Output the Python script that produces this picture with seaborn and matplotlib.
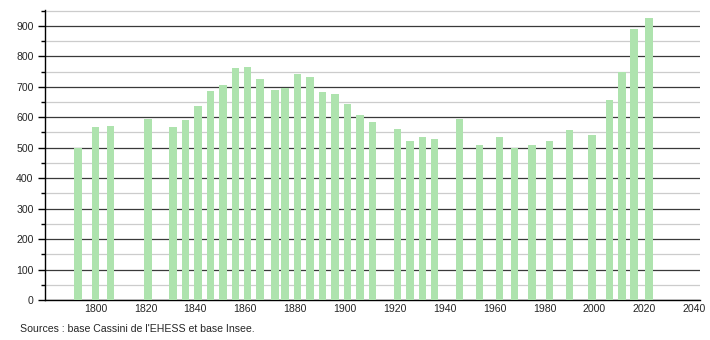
import matplotlib
matplotlib.use("Agg")
import matplotlib.pyplot as plt
import seaborn as sns
import pandas as pd
from matplotlib.ticker import MultipleLocator

years = [1793, 1800, 1806, 1821, 1831, 1836, 1841, 1846, 1851, 1856, 1861, 1866,
         1872, 1876, 1881, 1886, 1891, 1896, 1901, 1906, 1911, 1921, 1926, 1931,
         1936, 1946, 1954, 1962, 1968, 1975, 1982, 1990, 1999, 2006, 2011, 2016, 2022]
population = [498, 568, 571, 595, 568, 591, 637, 687, 705, 762, 764, 726,
              690, 697, 742, 733, 684, 677, 642, 607, 585, 562, 522, 535,
              528, 595, 509, 535, 500, 509, 522, 558, 542, 658, 749, 890, 926]
x_ticks = [1800, 1820, 1840, 1860, 1880, 1900, 1920, 1940, 1960, 1980, 2000, 2020, 2040]
source_text = "Sources : base Cassini de l'EHESS et base Insee."

df = pd.DataFrame({"year": years, "pop": population})

sns.set_style("white")
plt.rcParams['font.family'] = ['Liberation Sans', 'DejaVu Sans']

fig = plt.figure(figsize=(7.1, 3.4), dpi=100)
ax = fig.add_axes([0.063, 0.1176, 0.923, 0.853])

sns.barplot(data=df, x="year", y="pop", native_scale=True, width=0.75,
            color="#aee3ae", saturation=1, linewidth=0, ax=ax, zorder=3)

ax.set_xlim(1779.6, 2042.4)
ax.set_ylim(0, 952)
ax.set_xticks(x_ticks)
ax.set_xticklabels([str(t) for t in x_ticks])
ax.yaxis.set_major_locator(MultipleLocator(100))
ax.yaxis.set_minor_locator(MultipleLocator(50))
ax.set_axisbelow(True)
ax.yaxis.grid(True, which="major", color="#3a3a3a", linewidth=0.9, zorder=0)
ax.yaxis.grid(True, which="minor", color="#cccccc", linewidth=0.9, zorder=0)
ax.xaxis.grid(False)

for s in ["top", "right"]:
    ax.spines[s].set_visible(False)
ax.spines["left"].set_color("black")
ax.spines["bottom"].set_color("black")
ax.spines["left"].set_linewidth(1)
ax.spines["bottom"].set_linewidth(1)

ax.tick_params(axis="y", which="major", left=True, length=5, width=1, color="black",
               labelsize=7.6, pad=3, direction="out")
ax.tick_params(axis="y", which="minor", left=True, length=3, width=1, color="black",
               direction="out")
ax.tick_params(axis="x", which="both", bottom=False, length=0, labelsize=7.6, pad=3)
ax.set_xlabel("")
ax.set_ylabel("")

fig.text(20 / 710, 1 - 329 / 340, source_text, fontsize=7.6, va="center", ha="left")

fig.savefig("out.png", dpi=100)
